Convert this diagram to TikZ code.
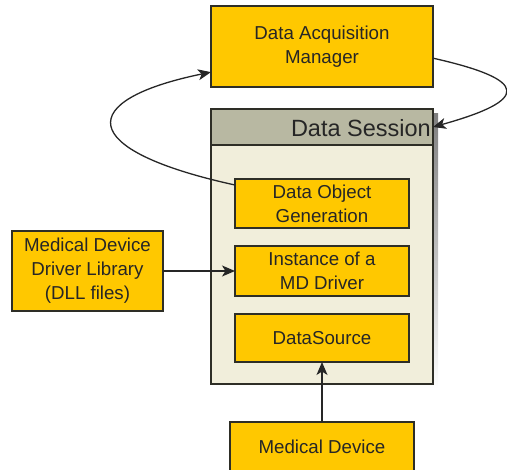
\documentclass[tikz,border=0pt]{standalone}
\usepackage{fontspec}
\setmainfont{Liberation Sans}
\usetikzlibrary{arrows.meta}
\definecolor{gold}{HTML}{FFC800}
\definecolor{edge}{HTML}{2E2E26}
\definecolor{sessbody}{HTML}{F1EEDB}
\definecolor{sesshead}{HTML}{B8B8A2}
\definecolor{shade}{HTML}{D0D0D0}
\definecolor{ink}{HTML}{262626}
\tikzset{
  box/.style={draw=edge, fill=gold, line width=1.2pt, align=center,
    inner sep=0pt, outer sep=0pt, text=ink,
    font=\fontsize{18.7}{24}\selectfont},
  link/.style={draw=black!85, line width=1.3pt,
    -{Stealth[length=13pt,width=11pt,inset=3.5pt]}},
}
\begin{document}
\begin{tikzpicture}[x=1pt,y=-1pt]
  \useasboundingbox (0,0) rectangle (507,470);

  % data session container with drop shadow and title bar
  \fill[shade] (216,114) rectangle (438,389);
  \node[draw=edge, fill=sessbody, line width=1.2pt, inner sep=0pt, outer sep=0pt,
        minimum width=222pt, minimum height=275pt] (session) at (322,246.5) {};
  \node[draw=edge, fill=sesshead, line width=1.2pt, inner sep=0pt, outer sep=0pt,
        minimum width=222pt, minimum height=36pt] (head) at (322,127) {};
  \node[anchor=base east, inner sep=0pt, text=ink,
        font=\fontsize{23.5}{28}\selectfont] (title) at (431,137) {Data Session};

  % boxes
  \node[box, minimum width=222pt, minimum height=81pt] (dam) at (322,46.5)
    {Data Acquisition\\Manager};
  \node[box, minimum width=174pt, minimum height=49pt] (dog) at (322,203.5)
    {Data Object\\Generation};
  \node[box, minimum width=174pt, minimum height=50pt] (inst) at (322,271)
    {Instance of a\\MD Driver};
  \node[box, minimum width=174pt, minimum height=48pt] (ds) at (322,338)
    {DataSource};
  \node[box, minimum width=151pt, minimum height=80pt] (lib) at (87.5,271)
    {Medical Device\\Driver Library\\(DLL files)};
  \node[box, minimum width=184pt, minimum height=50pt] (dev) at (322,447)
    {Medical Device};

  % connectors
  \draw[link] (dog.168) .. controls (75,150) and (75,100) .. (dam.193);
  \draw[link] (dam.-6) .. controls (530,80) and (530,100) .. (head.east);
  \draw[link] (lib.east) -- (inst.west);
  \draw[link] (dev.north) -- (ds.south);
\end{tikzpicture}
\end{document}
